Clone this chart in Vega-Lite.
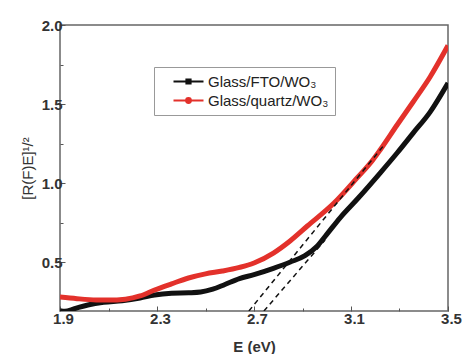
{
  "$schema": "https://vega.github.io/schema/vega-lite/v6.json",
  "width": 388,
  "height": 286,
  "autosize": "none",
  "padding": {"left": 60, "top": 25, "right": 15, "bottom": 43},
  "background": "white",
  "config": {
    "view": {"stroke": "#666", "strokeWidth": 1.5},
    "font": "Liberation Sans"
  },
  "datasets": {
    "curves": [
      {"sample": "Glass/FTO/WO₃", "E": 1.9, "v": 0.192},
      {"sample": "Glass/FTO/WO₃", "E": 1.92, "v": 0.188},
      {"sample": "Glass/FTO/WO₃", "E": 1.96, "v": 0.205},
      {"sample": "Glass/FTO/WO₃", "E": 2.015, "v": 0.228},
      {"sample": "Glass/FTO/WO₃", "E": 2.08, "v": 0.245},
      {"sample": "Glass/FTO/WO₃", "E": 2.156, "v": 0.255},
      {"sample": "Glass/FTO/WO₃", "E": 2.23, "v": 0.272},
      {"sample": "Glass/FTO/WO₃", "E": 2.29, "v": 0.291},
      {"sample": "Glass/FTO/WO₃", "E": 2.36, "v": 0.302},
      {"sample": "Glass/FTO/WO₃", "E": 2.43, "v": 0.305},
      {"sample": "Glass/FTO/WO₃", "E": 2.48, "v": 0.31},
      {"sample": "Glass/FTO/WO₃", "E": 2.53, "v": 0.328},
      {"sample": "Glass/FTO/WO₃", "E": 2.58, "v": 0.358},
      {"sample": "Glass/FTO/WO₃", "E": 2.64, "v": 0.395},
      {"sample": "Glass/FTO/WO₃", "E": 2.7, "v": 0.42},
      {"sample": "Glass/FTO/WO₃", "E": 2.78, "v": 0.46},
      {"sample": "Glass/FTO/WO₃", "E": 2.85, "v": 0.5},
      {"sample": "Glass/FTO/WO₃", "E": 2.91, "v": 0.54},
      {"sample": "Glass/FTO/WO₃", "E": 2.96, "v": 0.6},
      {"sample": "Glass/FTO/WO₃", "E": 3.0, "v": 0.675},
      {"sample": "Glass/FTO/WO₃", "E": 3.055, "v": 0.78},
      {"sample": "Glass/FTO/WO₃", "E": 3.13, "v": 0.905},
      {"sample": "Glass/FTO/WO₃", "E": 3.22, "v": 1.063},
      {"sample": "Glass/FTO/WO₃", "E": 3.29, "v": 1.19},
      {"sample": "Glass/FTO/WO₃", "E": 3.356, "v": 1.316},
      {"sample": "Glass/FTO/WO₃", "E": 3.426, "v": 1.449},
      {"sample": "Glass/FTO/WO₃", "E": 3.5, "v": 1.633},
      {"sample": "Glass/quartz/WO₃", "E": 1.9, "v": 0.278},
      {"sample": "Glass/quartz/WO₃", "E": 1.97, "v": 0.268},
      {"sample": "Glass/quartz/WO₃", "E": 2.05, "v": 0.26},
      {"sample": "Glass/quartz/WO₃", "E": 2.1, "v": 0.259},
      {"sample": "Glass/quartz/WO₃", "E": 2.17, "v": 0.265},
      {"sample": "Glass/quartz/WO₃", "E": 2.23, "v": 0.285},
      {"sample": "Glass/quartz/WO₃", "E": 2.29, "v": 0.323},
      {"sample": "Glass/quartz/WO₃", "E": 2.36, "v": 0.362},
      {"sample": "Glass/quartz/WO₃", "E": 2.43, "v": 0.399},
      {"sample": "Glass/quartz/WO₃", "E": 2.5, "v": 0.425},
      {"sample": "Glass/quartz/WO₃", "E": 2.57, "v": 0.443},
      {"sample": "Glass/quartz/WO₃", "E": 2.64, "v": 0.466},
      {"sample": "Glass/quartz/WO₃", "E": 2.7, "v": 0.494},
      {"sample": "Glass/quartz/WO₃", "E": 2.78, "v": 0.557},
      {"sample": "Glass/quartz/WO₃", "E": 2.85, "v": 0.635},
      {"sample": "Glass/quartz/WO₃", "E": 2.92, "v": 0.728},
      {"sample": "Glass/quartz/WO₃", "E": 3.03, "v": 0.873},
      {"sample": "Glass/quartz/WO₃", "E": 3.125, "v": 1.032},
      {"sample": "Glass/quartz/WO₃", "E": 3.19, "v": 1.146},
      {"sample": "Glass/quartz/WO₃", "E": 3.22, "v": 1.209},
      {"sample": "Glass/quartz/WO₃", "E": 3.29, "v": 1.367},
      {"sample": "Glass/quartz/WO₃", "E": 3.356, "v": 1.513},
      {"sample": "Glass/quartz/WO₃", "E": 3.426, "v": 1.671},
      {"sample": "Glass/quartz/WO₃", "E": 3.5, "v": 1.87}
    ],
    "tangents": [
      {"line": "quartz", "E": 2.679, "v": 0.19},
      {"line": "quartz", "E": 3.24, "v": 1.247},
      {"line": "fto", "E": 2.741, "v": 0.19},
      {"line": "fto", "E": 2.993, "v": 0.639}
    ]
  },
  "layer": [
    {
      "data": {"name": "curves"},
      "mark": {"type": "line", "strokeWidth": 5, "interpolate": "monotone", "clip": true},
      "encoding": {
        "x": {
          "field": "E", "type": "quantitative",
          "scale": {"domain": [1.9, 3.5], "nice": false, "zero": false},
          "axis": {
            "values": [1.9, 2.1, 2.3, 2.5, 2.7, 2.9, 3.1, 3.3, 3.5],
            "labelExpr": "abs(round((datum.value-1.9)*10))%4==0 ? format(datum.value,'.1f') : ''",
            "tickSize": {"condition": {"test": "abs(round((datum.value-1.9)*10))%4==0", "value": -5}, "value": -3},
            "tickColor": "#555",
            "tickWidth": 1,
            "domain": false,
            "grid": false,
            "labelFontSize": 15,
            "labelFontWeight": "bold",
            "labelColor": "#333",
            "labelPadding": 5,
            "labelOffset": 3,
            "labelFlush": false,
            "labelOverlap": false,
            "title": "E (eV)",
            "titleFontSize": 15,
            "titleFontWeight": "bold",
            "titleColor": "#333",
            "titlePadding": 11
          }
        },
        "y": {
          "field": "v", "type": "quantitative",
          "scale": {"domain": [0.19, 2.0], "nice": false, "zero": false},
          "axis": {
            "values": [0.5, 0.75, 1.0, 1.25, 1.5, 1.75, 2.0],
            "labelExpr": "round(datum.value*4)%2==0 ? format(datum.value,'.1f') : ''",
            "tickSize": {"condition": {"test": "round(datum.value*4)%2==0", "value": -5}, "value": -3},
            "tickColor": "#555",
            "tickWidth": 1,
            "domain": false,
            "grid": false,
            "labelFontSize": 15,
            "labelFontWeight": "bold",
            "labelColor": "#333",
            "labelPadding": 3,
            "labelFlush": false,
            "labelOverlap": false,
            "title": "[R(F)E]¹/²",
            "titleFontSize": 15,
            "titleFontWeight": "normal",
            "titleColor": "#333",
            "titlePadding": 6
          }
        },
        "color": {
          "field": "sample", "type": "nominal",
          "scale": {"domain": ["Glass/FTO/WO₃", "Glass/quartz/WO₃"], "range": ["#111111", "#e3312b"]},
          "legend": {
            "title": null,
            "orient": "none",
            "legendX": 94,
            "legendY": 42,
            "strokeColor": "#999",
            "fillColor": "white",
            "padding": 6,
            "labelFontSize": 15,
            "labelColor": "#222",
            "symbolType": "M-2,0H2M-0.28,-0.28H0.28V0.28H-0.28Z",
            "symbolSize": 225,
            "symbolStrokeWidth": 2,
            "symbolOffset": 20,
            "labelOffset": 11,
            "rowPadding": 2,
            "encode": {
              "symbols": {
                "update": {
                  "fill": {"scale": "color", "field": "value"},
                  "shape": {"signal": "datum.value == 'Glass/FTO/WO₃' ? 'M-2,0H2M-0.28,-0.28H0.28V0.28H-0.28Z' : 'M-2,0H2M0.32,0A0.32,0.32 0 1,1 -0.32,0A0.32,0.32 0 1,1 0.32,0Z'"}
                }
              }
            }
          }
        }
      }
    },
    {
      "data": {"name": "tangents"},
      "mark": {"type": "line", "strokeWidth": 1.5, "strokeDash": [5, 4], "color": "#111", "clip": true},
      "encoding": {
        "x": {"field": "E", "type": "quantitative"},
        "y": {"field": "v", "type": "quantitative"},
        "detail": {"field": "line"}
      }
    }
  ]
}
